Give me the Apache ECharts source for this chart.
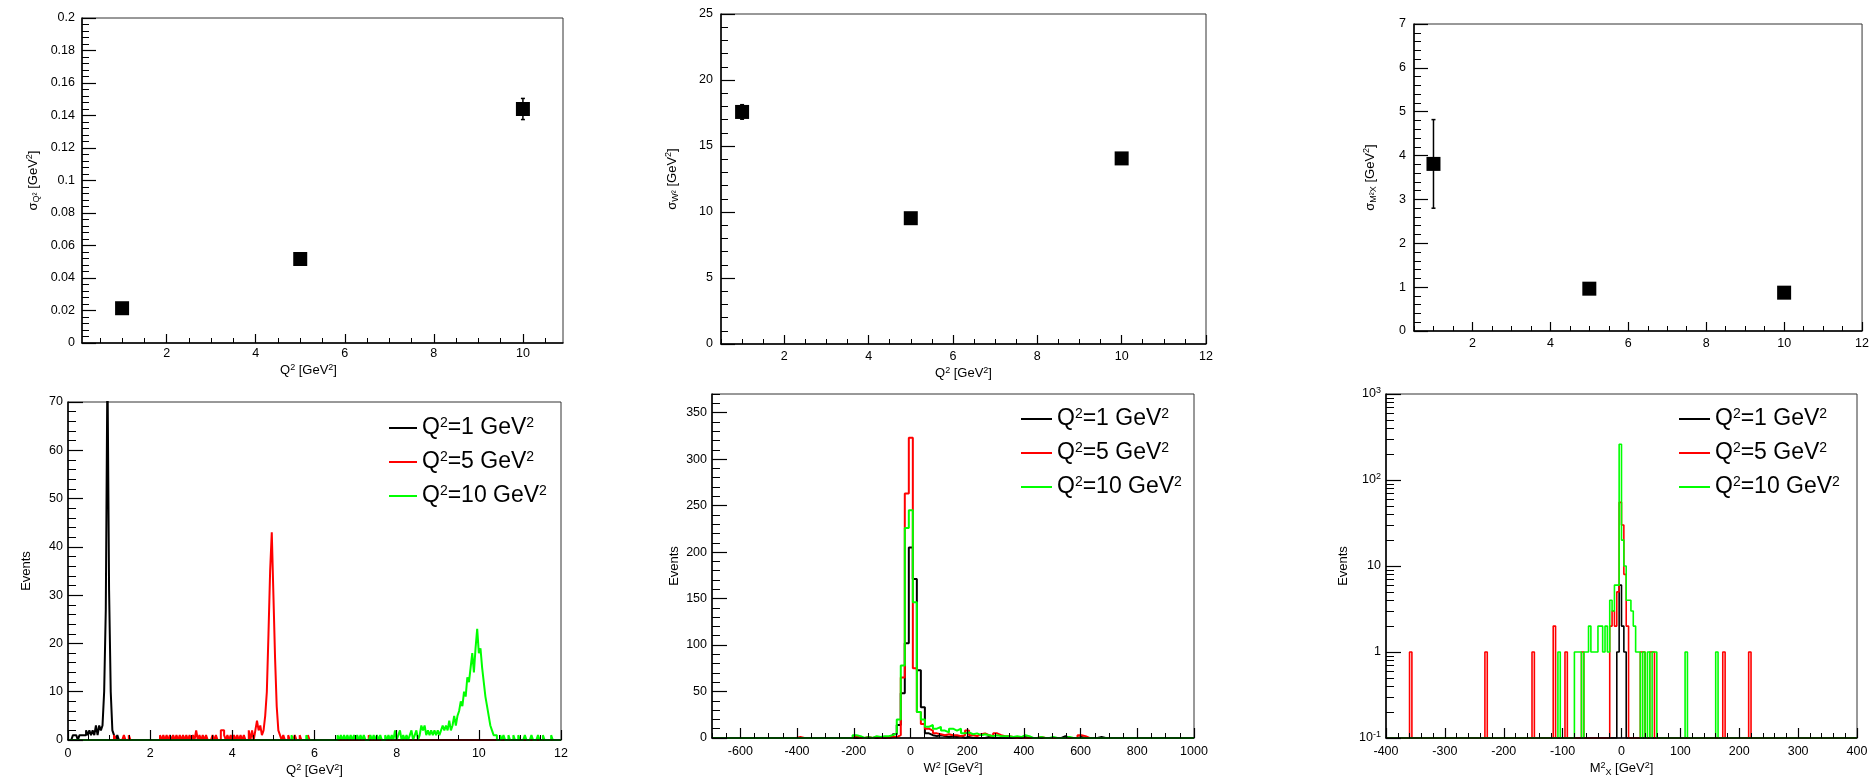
<!DOCTYPE html>
<html><head><meta charset="utf-8">
<script src="https://cdn.jsdelivr.net/npm/echarts@6/dist/echarts.min.js"></script>
<style>html,body{margin:0;padding:0;background:#fff}#c{width:1872px;height:780px}</style>
</head><body><div id="c"></div>
<script>
// ===== data: resolution vs Q2 (top row) =====
const q2Points = [1, 5, 10];
const sigmaQ2 = [0.0214, 0.0517, 0.1440];
const sigmaQ2Err = [0.0010, 0.0015, 0.0065];
const sigmaW2 = [17.58, 9.53, 14.06];
const sigmaW2Err = [0.55, 0.20, 0.25];
const sigmaMX2 = [3.81, 0.965, 0.874];
const sigmaMX2Err = [1.01, 0.04, 0.04];

// ===== data: histograms (bottom row) =====
const seriesNames = ['Q²=1 GeV²', 'Q²=5 GeV²', 'Q²=10 GeV²'];
const seriesColors = ['#000000', '#ff0000', '#00ff00'];

const q2Bins = {min: 0, max: 12, n: 300};
const w2Bins = {min: -700, max: 1000, n: 120};
const mx2Bins = {min: -400, max: 400, n: 200};

// nonzero bins: [x inside bin, count]
const q2HistQ1 = [[0.12,1],[0.16,1],[0.20,1],[0.28,1],[0.32,1],[0.36,1],[0.40,1],[0.44,2],[0.48,1],[0.52,2],[0.56,1],[0.60,2],[0.64,1],[0.68,3],[0.72,1],[0.76,3],[0.80,2],[0.84,3],[0.88,10],[0.92,27],[0.96,78],[1.00,31],[1.04,10],[1.08,2],[1.12,1],[1.20,1]];
const q2HistQ5 = [[1.12,1],[1.36,1],[1.48,1],[2.24,1],[2.32,1],[2.40,1],[2.48,1],[2.56,1],[2.64,1],[2.72,1],[2.80,1],[2.88,1],[2.96,1],[3.04,1],[3.12,2],[3.20,1],[3.28,1],[3.36,1],[3.52,1],[3.60,1],[3.72,2],[3.76,2],[3.80,1],[3.88,1],[3.96,1],[4.04,1],[4.12,1],[4.20,1],[4.28,1],[4.40,2],[4.48,2],[4.56,2],[4.60,4],[4.64,2],[4.68,3],[4.72,1],[4.76,2],[4.80,5],[4.84,10],[4.88,22],[4.92,35],[4.96,43],[5.00,30],[5.04,17],[5.08,7],[5.12,2],[5.16,1],[5.24,1],[5.36,1],[5.52,1],[5.64,1],[5.84,1],[7.32,1]];
const q2HistQ10 = [[5.44,1],[5.80,1],[6.56,1],[6.64,1],[6.72,1],[6.80,1],[6.88,1],[6.96,1],[7.04,1],[7.12,1],[7.20,1],[7.36,1],[7.44,1],[7.52,1],[7.60,1],[7.72,1],[7.80,1],[7.88,1],[7.96,2],[8.04,1],[8.08,2],[8.16,1],[8.24,1],[8.32,1],[8.36,2],[8.44,1],[8.48,2],[8.56,1],[8.60,3],[8.64,2],[8.68,3],[8.72,1],[8.76,2],[8.80,1],[8.84,2],[8.88,1],[8.92,2],[8.96,1],[9.00,2],[9.04,1],[9.08,2],[9.12,3],[9.16,2],[9.20,3],[9.24,2],[9.28,4],[9.32,2],[9.36,3],[9.40,5],[9.44,3],[9.48,5],[9.52,6],[9.56,8],[9.60,7],[9.64,10],[9.68,9],[9.72,13],[9.76,12],[9.80,15],[9.84,18],[9.88,14],[9.92,19],[9.96,23],[10.00,18],[10.04,19],[10.08,15],[10.12,12],[10.16,9],[10.20,7],[10.24,5],[10.28,3],[10.32,2],[10.36,1],[10.40,1],[10.52,1],[10.60,1],[10.72,1],[10.84,1],[10.96,1],[11.12,1],[11.28,1],[11.44,1],[11.56,1],[11.76,1]];

const w2HistQ1 = [[-69,1],[-55,4],[-41,14],[-27,48],[-12,102],[2,205],[16,171],[30,73],[44,33],[58,5],[73,3],[87,2],[101,3],[115,2],[129,1],[144,2],[158,1],[172,2],[200,1],[271,1],[399,1],[540,2],[597,1],[668,1]];
const w2HistQ5 = [[-396,1],[-196,2],[-154,1],[-126,1],[-97,1],[-69,1],[-55,1],[-41,3],[-27,65],[-12,263],[2,323],[16,75],[30,28],[44,15],[58,10],[73,8],[87,5],[101,4],[115,3],[129,4],[144,3],[158,3],[172,2],[186,3],[200,8],[214,3],[229,2],[243,4],[257,5],[271,3],[285,2],[299,5],[314,3],[328,2],[342,2],[356,1],[384,1],[455,1],[597,3],[611,2]];
const w2HistQ10 = [[-196,3],[-182,2],[-154,1],[-126,2],[-112,1],[-97,2],[-83,2],[-69,3],[-55,5],[-41,20],[-27,78],[-12,226],[2,245],[16,146],[30,28],[44,20],[58,12],[73,14],[87,10],[101,12],[115,8],[129,6],[144,10],[158,8],[172,10],[186,5],[200,6],[214,4],[229,5],[243,3],[257,4],[271,3],[285,2],[299,3],[314,2],[328,2],[342,2],[356,1],[370,2],[384,1],[399,3],[413,2],[455,1],[498,1],[554,1]];

const mx2HistQ1 = [[-6,1],[-2,6],[2,2],[6,1]];
const mx2HistQ5 = [[-358,1],[-230,1],[-150,1],[-114,2],[-94,1],[-66,1],[-18,2],[-14,3],[-10,2],[-6,5],[-2,55],[2,30],[6,8],[10,2],[34,1],[38,1],[50,1],[54,1],[174,1],[218,1]];
const mx2HistQ10 = [[-106,1],[-78,1],[-74,1],[-70,1],[-62,1],[-58,1],[-54,2],[-50,1],[-46,1],[-42,1],[-38,2],[-34,2],[-30,1],[-26,2],[-22,1],[-18,4],[-14,3],[-10,6],[-6,6],[-2,260],[2,20],[6,10],[10,4],[14,4],[18,3],[22,2],[26,1],[30,1],[38,1],[46,1],[54,1],[58,1],[110,1],[162,1]];

// ===== tick labels =====
const q2TicksTop = [2, 4, 6, 8, 10];
const q2TicksTop12 = [2, 4, 6, 8, 10, 12];
const sigmaQ2Ticks = [0, 0.02, 0.04, 0.06, 0.08, 0.1, 0.12, 0.14, 0.16, 0.18, 0.2];
const sigmaW2Ticks = [0, 5, 10, 15, 20, 25];
const sigmaMX2Ticks = [0, 1, 2, 3, 4, 5, 6, 7];
const q2HistXTicks = [0, 2, 4, 6, 8, 10, 12];
const q2HistYTicks = [0, 10, 20, 30, 40, 50, 60, 70];
const w2HistXTicks = [-600, -400, -200, 0, 200, 400, 600, 800, 1000];
const w2HistYTicks = [0, 50, 100, 150, 200, 250, 300, 350];
const mx2HistXTicks = [-400, -300, -200, -100, 0, 100, 200, 300, 400];
const mx2HistYTicks = [0.1, 1, 10, 100, 1000];
const logLabels = {0.1: '10{sup|-1}', 1: '1', 10: '10', 100: '10{sup|2}', 1000: '10{sup|3}'};

// ===== helpers =====
const FONT = '"Liberation Sans", Arial, Helvetica, sans-serif';
function range(a, b, s) { const out = []; const n = Math.round((b - a) / s); for (let i = 0; i <= n; i++) out.push(+(a + i * s).toFixed(6)); return out; }
function logMinors(lo, hi) { const out = []; for (let d = lo; d < hi; d *= 10) for (let k = 2; k <= 9; k++) out.push(+(d * k).toPrecision(6)); return out; }
function binCounts(spec, pairs) {
  const w = (spec.max - spec.min) / spec.n; const arr = new Array(spec.n).fill(0);
  pairs.forEach(([x, c]) => { const i = Math.floor((x - spec.min) / w + 1e-6); if (i >= 0 && i < spec.n) arr[i] = c; });
  return arr;
}
function stepPoints(spec, counts, floor) {
  const w = (spec.max - spec.min) / spec.n; const pts = [];
  counts.forEach((c, i) => { const lo = spec.min + i * w, hi = lo + w; const v = Math.max(c, floor); pts.push([lo, v], [hi, v]); });
  return pts;
}

const panels = [
  {l: 82, t: 18, r: 563, b: 343},
  {l: 721, t: 14, r: 1206, b: 344},
  {l: 1414, t: 24, r: 1863, b: 331},
  {l: 68, t: 402, r: 561, b: 740},
  {l: 712, t: 394, r: 1194, b: 738},
  {l: 1386, t: 394, r: 1857, b: 738}
];

const richStyles = {
  sup: {fontSize: 9, lineHeight: 9, verticalAlign: 'top', fontFamily: FONT, color: '#000'},
  sub: {fontSize: 9, lineHeight: 9, verticalAlign: 'bottom', fontFamily: FONT, color: '#000'}
};

function makeAxes(dim, gi, c) {
  const isX = dim === 'x';
  const type = c.type || 'value';
  const main = {
    type, gridIndex: gi, min: c.min, max: c.max, position: isX ? 'bottom' : 'left',
    axisLine: {show: true, onZero: false, lineStyle: {color: '#000', width: 1.5}},
    axisTick: {show: true, inside: true, length: c.majorLen, customValues: c.majors, lineStyle: {color: '#000', width: 1.2}},
    axisLabel: {show: true, customValues: c.majors, margin: c.margin, color: '#000', fontSize: 12.5, fontFamily: FONT,
      formatter: c.fmt || (v => String(v)), lineHeight: 16, rich: {sup: {fontSize: 9, lineHeight: 9, verticalAlign: 'top', color: '#000', fontFamily: FONT}}},
    splitLine: {show: false}, minorTick: {show: false},
    name: c.name || '', nameLocation: 'middle', nameGap: c.nameGap || 0, nameRotate: isX ? 0 : 90,
    nameTextStyle: {color: '#000', fontSize: 13, fontFamily: FONT, lineHeight: 16, rich: richStyles, padding: c.namePad || 0},
    silent: true, z: 5
  };
  if (type === 'log') main.logBase = 10;
  const minor = {
    type, gridIndex: gi, min: c.min, max: c.max, position: isX ? 'bottom' : 'left',
    axisLine: {show: false, onZero: false}, axisLabel: {show: false}, splitLine: {show: false},
    axisTick: {show: true, inside: true, length: c.minorLen, customValues: c.minors, lineStyle: {color: '#000', width: 1}},
    silent: true, z: 5
  };
  if (type === 'log') minor.logBase = 10;
  return [main, minor];
}

const xAxes = [], yAxes = [];
function addPanel(gi, xc, yc) { xAxes.push(...makeAxes('x', gi, xc)); yAxes.push(...makeAxes('y', gi, yc)); }

const fmtQ2 = v => (v === 0 ? '0' : String(+v.toFixed(2)));
// top row
addPanel(0, {min: 0.1, max: 10.9, majors: q2TicksTop, minors: range(0.5, 10.5, 0.5), majorLen: 9, minorLen: 5, margin: 3, name: 'Q{sup|2} [GeV{sup|2}]', nameGap: 9, namePad: [0, 28, 0, 0]},
            {min: 0, max: 0.2, majors: sigmaQ2Ticks, minors: range(0, 0.2, 0.004), majorLen: 14, minorLen: 7, margin: 7, fmt: fmtQ2, name: 'σ{sub|Q²} [GeV{sup|2}]', nameGap: 41});
addPanel(1, {min: 0.5, max: 12, majors: q2TicksTop12, minors: range(0.5, 12, 0.5), majorLen: 9, minorLen: 5, margin: 5, name: 'Q{sup|2} [GeV{sup|2}]', nameGap: 17},
            {min: 0, max: 25, majors: sigmaW2Ticks, minors: range(0, 25, 1), majorLen: 14, minorLen: 7, margin: 8, name: 'σ{sub|W²} [GeV{sup|2}]', nameGap: 41});
addPanel(2, {min: 0.5, max: 12, majors: q2TicksTop12, minors: range(0.5, 12, 0.5), majorLen: 9, minorLen: 5, margin: 5},
            {min: 0, max: 7, majors: sigmaMX2Ticks, minors: range(0, 7, 0.2), majorLen: 14, minorLen: 7, margin: 8, name: 'σ{sub|M²X} [GeV{sup|2}]', nameGap: 36});
// bottom row
addPanel(3, {min: 0, max: 12, majors: q2HistXTicks, minors: range(0, 12, 0.5), majorLen: 10, minorLen: 5, margin: 6, name: 'Q{sup|2} [GeV{sup|2}]', nameGap: 20},
            {min: 0, max: 70, majors: q2HistYTicks, minors: range(0, 70, 2), majorLen: 15, minorLen: 8, margin: 5, name: 'Events', nameGap: 34});
addPanel(4, {min: -700, max: 1000, majors: w2HistXTicks, minors: range(-700, 1000, 50), majorLen: 10, minorLen: 5, margin: 6, name: 'W{sup|2} [GeV{sup|2}]', nameGap: 20},
            {min: 0, max: 370, majors: w2HistYTicks, minors: range(0, 370, 10), majorLen: 15, minorLen: 8, margin: 5, name: 'Events', nameGap: 20});
addPanel(5, {min: -400, max: 400, majors: mx2HistXTicks, minors: range(-400, 400, 20), majorLen: 10, minorLen: 5, margin: 6, name: 'M{sup|2}{sub|X} [GeV{sup|2}]', nameGap: 20},
            {type: 'log', min: 0.1, max: 1000, majors: mx2HistYTicks, minors: logMinors(0.1, 1000), majorLen: 15, minorLen: 8, margin: 5, fmt: v => logLabels[+(+v).toPrecision(6)] || String(v), name: 'Events', nameGap: 35});

const grids = panels.map(p => ({left: p.l, top: p.t, width: p.r - p.l, height: p.b - p.t, show: true, borderColor: '#333', borderWidth: 1, containLabel: false}));

const series = [];
function errRender(params, api) {
  const x = api.value(0), y = api.value(1), e = api.value(2);
  const top = api.coord([x, y + e]), bot = api.coord([x, y - e]);
  const st = {stroke: '#000', lineWidth: 1.5};
  return {type: 'group', children: [
    {type: 'line', shape: {x1: top[0], y1: top[1], x2: bot[0], y2: bot[1]}, style: st},
    {type: 'line', shape: {x1: top[0] - 2, y1: top[1], x2: top[0] + 2, y2: top[1]}, style: st},
    {type: 'line', shape: {x1: bot[0] - 2, y1: bot[1], x2: bot[0] + 2, y2: bot[1]}, style: st}
  ]};
}
[[sigmaQ2, sigmaQ2Err], [sigmaW2, sigmaW2Err], [sigmaMX2, sigmaMX2Err]].forEach(([vals, errs], p) => {
  series.push({type: 'custom', xAxisIndex: 2 * p, yAxisIndex: 2 * p, renderItem: errRender, encode: {x: 0, y: 1},
    data: q2Points.map((x, i) => [x, vals[i], errs[i]]), z: 2, silent: true});
  series.push({type: 'scatter', xAxisIndex: 2 * p, yAxisIndex: 2 * p, symbol: 'rect', symbolSize: 14,
    itemStyle: {color: '#000', opacity: 1}, data: q2Points.map((x, i) => [x, vals[i]]), z: 4, silent: true});
});

const hists = [
  {p: 3, spec: q2Bins, sets: [q2HistQ1, q2HistQ5, q2HistQ10], floor: 0, width: 2},
  {p: 4, spec: w2Bins, sets: [w2HistQ1, w2HistQ5, w2HistQ10], floor: 0, width: 2},
  {p: 5, spec: mx2Bins, sets: [mx2HistQ1, mx2HistQ5, mx2HistQ10], floor: 0.1, width: 1.6}
];
hists.forEach(h => {
  h.sets.forEach((pairs, k) => {
    series.push({
      type: 'line', name: seriesNames[k], xAxisIndex: 2 * h.p, yAxisIndex: 2 * h.p,
      data: stepPoints(h.spec, binCounts(h.spec, pairs), h.floor),
      showSymbol: false, symbol: 'none', clip: true, silent: true,
      lineStyle: {color: seriesColors[k], width: h.width}, itemStyle: {color: seriesColors[k]}, z: 2 + k
    });
  });
});

const legendFmt = name => name.replace(/²/g, '{sup|2}');
function legendAt(left, top, iw) {
  return {
    data: seriesNames, left, top, orient: 'vertical', icon: 'rect', itemWidth: iw, itemHeight: 2, itemGap: 10,
    selectedMode: false, formatter: legendFmt,
    textStyle: {fontSize: 23, color: '#000', fontFamily: FONT, lineHeight: 24,
      rich: {sup: {fontSize: 14, lineHeight: 14, verticalAlign: 'top', color: '#000', fontFamily: FONT}}}
  };
}

const option = {
  animation: false,
  backgroundColor: '#ffffff',
  grid: grids,
  xAxis: xAxes,
  yAxis: yAxes,
  legend: [legendAt(384, 411, 28), legendAt(1016, 402, 31), legendAt(1674, 402, 31)],
  series
};
const chart = echarts.init(document.getElementById('c'), null, {renderer: 'canvas', width: 1872, height: 780});
chart.setOption(option);
</script>
</body></html>
